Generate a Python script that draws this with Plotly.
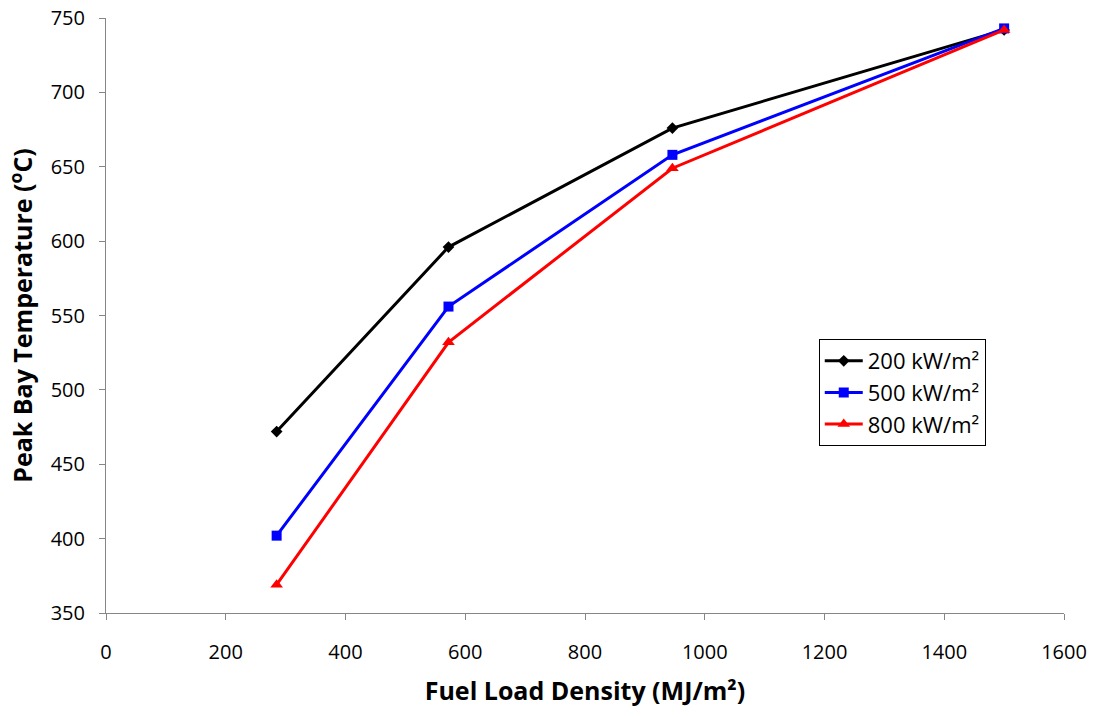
import plotly.graph_objects as go

fuel_load = [285, 572, 946, 1500]
t_200 = [472, 596, 676, 742]
t_500 = [402, 556, 658, 743]
t_800 = [369, 532, 649, 742]

series = [
    ("200 kW/m²", t_200, "#000000", "diamond", 9),
    ("500 kW/m²", t_500, "#0000FF", "square", 10),
    ("800 kW/m²", t_800, "#FF0000", "triangle-up", 11),
]

fig = go.Figure()
for name, ys, col, sym, sz in series:
    fig.add_trace(go.Scatter(
        x=fuel_load, y=ys, name=name, mode="lines+markers",
        line=dict(color=col, width=3),
        marker=dict(symbol=sym, size=sz, color=col),
    ))

font = "Open Sans, Liberation Sans, sans-serif"
fig.update_layout(
    width=1096, height=717,
    margin=dict(l=106, r=32, t=18, b=104),
    paper_bgcolor="white", plot_bgcolor="white",
    font=dict(family=font, size=20, color="black"),
    showlegend=True,
    legend=dict(x=0.744, y=0.4605, xanchor="left", yanchor="top",
                bordercolor="black", borderwidth=1, bgcolor="white",
                font=dict(size=22), tracegroupgap=0, itemwidth=38),
    xaxis=dict(range=[0, 1600], dtick=200, showgrid=False, zeroline=False,
               showline=True, linecolor="#868686", linewidth=1,
               ticks="outside", ticklen=6, tickcolor="#868686",
               ticklabelstandoff=15, automargin=False,
               title=dict(text="<b>Fuel Load Density (MJ/m²)</b>", font=dict(size=25), standoff=18)),
    yaxis=dict(range=[350, 750], dtick=50, showgrid=False, zeroline=False,
               showline=True, linecolor="#868686", linewidth=1,
               ticks="outside", ticklen=6, tickcolor="#868686",
               ticklabelstandoff=10, automargin=False,
               title=dict(text="<b>Peak Bay Temperature (<sup>o</sup>C)</b>", font=dict(size=25), standoff=10)),
)

fig.write_html("out.html")
